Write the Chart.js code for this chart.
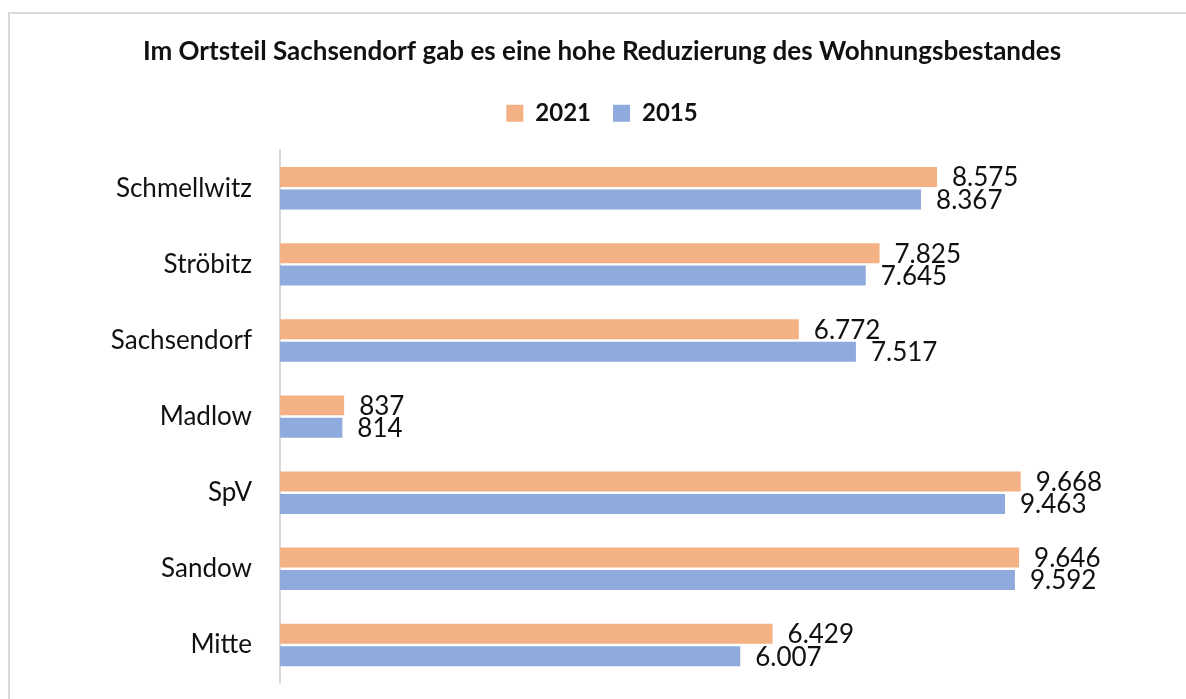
<!DOCTYPE html>
<html>
<head>
<meta charset="utf-8">
<script src="https://cdn.jsdelivr.net/npm/chart.js@4"></script>
<style>
  html, body { margin: 0; padding: 0; background: #fff; }
  #frame { position: absolute; left: 8px; top: 12px; width: 1300px; height: 800px;
           border-left: 2px solid #d9d9d9; border-top: 2px solid #d9d9d9; }
  #wrap { position: absolute; left: 0; top: 0; width: 1186px; height: 699px; }
</style>
</head>
<body>
<div id="frame"></div>
<div id="wrap"><canvas id="chart" width="1186" height="699"></canvas></div>
<script>
const districts = ["Schmellwitz", "Ströbitz", "Sachsendorf", "Madlow", "SpV", "Sandow", "Mitte"];
const values2021 = [8575, 7825, 6772, 837, 9668, 9646, 6429];
const values2015 = [8367, 7645, 7517, 814, 9463, 9592, 6007];

// German thousands separator
const fmt = (v) => String(v).replace(/\B(?=(\d{3})+(?!\d))/g, ".");

// ── value labels right of the bars
const valueLabels = {
  id: "valueLabels",
  afterDatasetsDraw(chart) {
    const ctx = chart.ctx;
    ctx.save();
    ctx.font = "26px Lato";
    ctx.fillStyle = "#111";
    ctx.textBaseline = "middle";
    ctx.textAlign = "left";
    chart.data.datasets.forEach((ds, i) => {
      chart.getDatasetMeta(i).data.forEach((bar, j) => {
        ctx.fillText(fmt(ds.data[j]), bar.x + 15, bar.y + 1);
      });
    });
    ctx.restore();
  }
};

// ── extra space under the legend
const legendGap = {
  id: "legendGap",
  beforeInit(chart) {
    const origFit = chart.legend.fit;
    chart.legend.fit = function () {
      origFit.bind(chart.legend)();
      this.height += 15;
    };
  }
};

new Chart(document.getElementById("chart"), {
  type: "bar",
  data: {
    labels: districts,
    datasets: [
      { label: "2021", data: values2021, backgroundColor: "#F4B183", barPercentage: 0.89, categoryPercentage: 0.59 },
      { label: "2015", data: values2015, backgroundColor: "#8FAADC", barPercentage: 0.89, categoryPercentage: 0.59 }
    ]
  },
  options: {
    indexAxis: "y",
    responsive: false,
    animation: false,
    layout: { padding: { left: 18, right: 0, bottom: 16, top: 0 } },
    plugins: {
      title: {
        display: true,
        text: "Im Ortsteil Sachsendorf gab es eine hohe Reduzierung des Wohnungsbestandes",
        color: "#111",
        font: { family: "Lato", size: 26, weight: "bold" },
        padding: { top: 36, bottom: 12 }
      },
      legend: {
        position: "top",
        labels: {
          color: "#111",
          font: { family: "Lato", size: 24, weight: "bold" },
          boxWidth: 17,
          boxHeight: 17,
          padding: 22
        }
      },
      tooltip: { enabled: false }
    },
    scales: {
      x: { display: false, min: 0, max: 11825 },
      y: {
        afterFit: (s) => { s.width = 262; s.paddingTop = 0; s.paddingBottom = 0; },
        grid: { display: false, drawTicks: false },
        border: { display: true, color: "#d9d9d9", width: 2 },
        ticks: { color: "#111", font: { family: "Lato", size: 26 }, padding: 28 }
      }
    }
  },
  plugins: [valueLabels, legendGap]
});
</script>
</body>
</html>
